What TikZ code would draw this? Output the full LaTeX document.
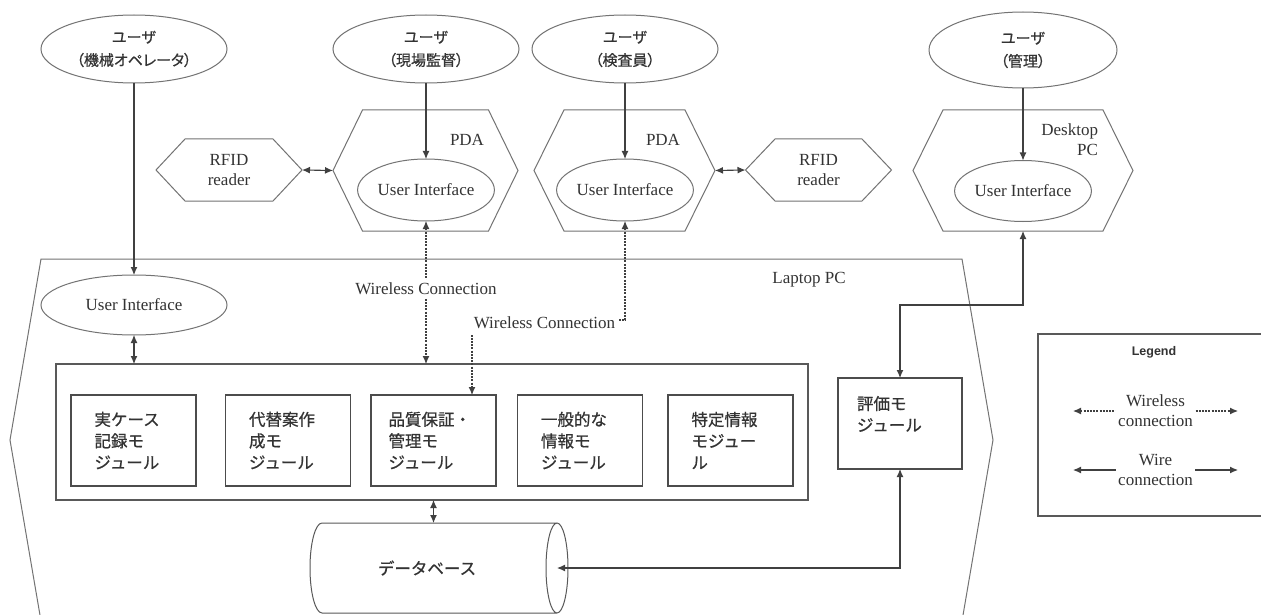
\documentclass[tikz,border=0pt]{standalone}
\usepackage{fontspec}
\setmainfont{Liberation Serif}
\newfontfamily\jp[FakeBold=0.7]{Noto Sans CJK JP}
\newfontfamily\jpp[FakeBold=0.7,RawFeature=+palt]{Noto Sans CJK JP}
\newfontfamily\legendfont{Liberation Sans}
\usetikzlibrary{arrows.meta,shapes.geometric}

% hexagon: name, centre x, centre y, half top width, slant, half height
\newcommand\hexshape[6]{%
  \coordinate (#1) at (#2,#3);
  \coordinate (#1-w) at ({#2-#4-#5},#3);
  \coordinate (#1-e) at ({#2+#4+#5},#3);
  \coordinate (#1-n) at (#2,{#3-#6});
  \coordinate (#1-s) at (#2,{#3+#6});
  \draw[outline] ({#2-#4},{#3-#6}) -- ({#2+#4},{#3-#6}) -- (#1-e)
    -- ({#2+#4},{#3+#6}) -- ({#2-#4},{#3+#6}) -- (#1-w) -- cycle;
}

\begin{document}
\begin{tikzpicture}[x=1pt,y=-1pt,
  every node/.style={inner sep=0pt, outer sep=0pt, text=black!80},
  outline/.style={draw=black!55, line width=1pt},
  user/.style={outline, ellipse, minimum width=186pt, minimum height=68pt,
    align=center, font=\jp\fontsize{15}{23}\selectfont},
  uif/.style={outline, ellipse, minimum width=124pt, minimum height=62pt,
    font=\fontsize{17}{20}\selectfont},
  modbox/.style={draw=black!70, line width=1.6pt, minimum width=125pt, minimum height=91pt},
  module/.style={modbox, text width=78pt, align=left,
    font=\jp\fontsize{16.5}{21.5}\selectfont},
  lbl/.style={font=\fontsize{17}{20}\selectfont, align=center},
  onearrow/.style={-{Latex[length=8pt,width=7pt]}},
  twoarrow/.style={{Latex[length=8pt,width=7pt]}-{Latex[length=8pt,width=7pt]}},
  wire/.style={draw=black!75, line width=1.1pt},
  wireless/.style={draw=black!75, line width=1.1pt, dash pattern=on 2pt off 1.2pt},
]
\path[use as bounding box] (0,0) rectangle (1261,615);
\clip (0,0) rectangle (1261,615);
\fill[white] (0,0) rectangle (1261,615);

% ---- devices ----
\hexshape{lap}{501.5}{440}{460.5}{31}{181}
\hexshape{pda1}{425.5}{170.5}{63}{29.5}{60.5}
\hexshape{pda2}{624.5}{170.5}{60.5}{30}{60.5}
\hexshape{dpc}{1023}{170.5}{80}{30}{60.5}
\hexshape{rf1}{229}{170}{44}{29}{31}
\hexshape{rf2}{818.5}{170}{43.5}{29.5}{31}

\node[lbl] at (229,170) {RFID\\reader};
\node[lbl] at (818.5,170) {RFID\\reader};
\node[lbl] at (467,140) {PDA};
\node[lbl] at (663,140) {PDA};
\node[lbl, align=right, anchor=east] at (1098,140) {Desktop\\PC};
\node[lbl] at (809,280) {Laptop PC};

% ---- users ----
\node[user] (u1) at (134,49) {ユーザ\\{\jpp（機械オペレータ）}};
\node[user] (u2) at (426,49) {ユーザ\\{\jpp（現場監督）}};
\node[user] (u3) at (625,49) {ユーザ\\{\jpp（検査員）}};
\node[user, minimum width=188pt, minimum height=76pt] (u4) at (1023,50) {ユーザ\\{\jpp（管理）}};

% ---- user interfaces ----
\node[uif, minimum width=186pt, minimum height=60pt] (ui1) at (134,305) {User Interface};
\node[uif, minimum width=125pt] (ui2) at (426,190) {User Interface};
\node[uif, minimum width=123pt] (ui3) at (625,190) {User Interface};
\node[uif, minimum height=61pt] (ui4) at (1023,191) {User Interface};

% ---- laptop modules ----
\node[draw=black!65, line width=1.3pt, minimum width=752pt, minimum height=136pt] (mods) at (432,432) {};
\node[module] (m1) at (133.5,440.5) {実ケース\\記録モ\\ジュール};
\node[module] (m2) at (288,440.5) {代替案作\\成モ\\ジュール};
\node[module, text width=90pt] (m3) at (433.5,440.5) {品質保証・\\管理モ\\ジュール};
\node[module] (m4) at (580,440.5) {一般的な\\情報モ\\ジュール};
\node[module] (m5) at (730.5,440.5) {特定情報\\モジュー\\ル};
\node[modbox, minimum width=124pt] (eval) at (900,423.5) {};
\node[anchor=north west, align=left, font=\jp\fontsize{16.5}{21.5}\selectfont]
  (evalt) at ([xshift=19pt, yshift=-18pt]eval.north west) {評価モ\\ジュール};

% ---- database (horizontal cylinder) ----
\node[minimum width=235pt, minimum height=90pt] (db) at (439.5,568) {};
\draw[outline, draw=black!65] (db.north west) -- (db.north east)
  (db.south west) -- (db.south east)
  (db.north west) arc[start angle=90, end angle=270, x radius=12pt, y radius=45pt]
  (db.east) ellipse[x radius=11pt, y radius=45pt];
\node[font=\jp\fontsize{16.5}{20}\selectfont] (dbt) at (427,568) {データベース};

% ---- connectors ----
\draw[wire, onearrow] (u1.south) -- (ui1.north);
\draw[wire, onearrow] (u2.south) -- (ui2.north);
\draw[wire, onearrow] (u3.south) -- (ui3.north);
\draw[wire, onearrow] (u4.south) -- (ui4.north);

\draw[wire, twoarrow] (rf1-e) -- (pda1-w);
\draw[wire, twoarrow] (pda2-e) -- (rf2-w);

\draw[wire, twoarrow] (ui1.south) -- (mods.north -| ui1.south);
\draw[wire, twoarrow] (mods.south -| m3.south) -- (db.north -| m3.south);

\draw[wireless, twoarrow] (ui2.south) -- node[pos=0.475, lbl, fill=white, inner xsep=1pt, inner ysep=3pt]
  {Wireless Connection} (mods.north -| ui2.south);

\coordinate (wc) at (472,320);
\draw[wireless, twoarrow] (ui3.south) |- (wc) -- (wc |- m3.north);
\node[lbl, fill=white, inner xsep=3pt, inner ysep=6pt] at (544.5,323) {Wireless Connection};

\coordinate (wb) at (900,305);
\draw[wire, twoarrow] (dpc-s) |- (wb) -- (eval.north);
\draw[wire, twoarrow] (db.east) -| (eval.south);

% ---- legend ----
\node[draw=black!65, line width=1.5pt, minimum width=240pt, minimum height=182pt] (legend) at (1158,425) {};
\node[font=\legendfont\bfseries\fontsize{12.5}{14}\selectfont] at (1154,352) {Legend};
\coordinate (lw1) at (1073,411);
\coordinate (lw2) at (1238,411);
\coordinate (lc1) at (1073,470);
\coordinate (lc2) at (1238,470);
\draw[wireless, twoarrow] (lw1) -- node[lbl, fill=white, inner xsep=2pt] {Wireless\\connection} (lw2);
\draw[wire, twoarrow] (lc1) -- node[lbl, fill=white, inner xsep=2pt] {Wire\\connection} (lc2);
\end{tikzpicture}
\end{document}
